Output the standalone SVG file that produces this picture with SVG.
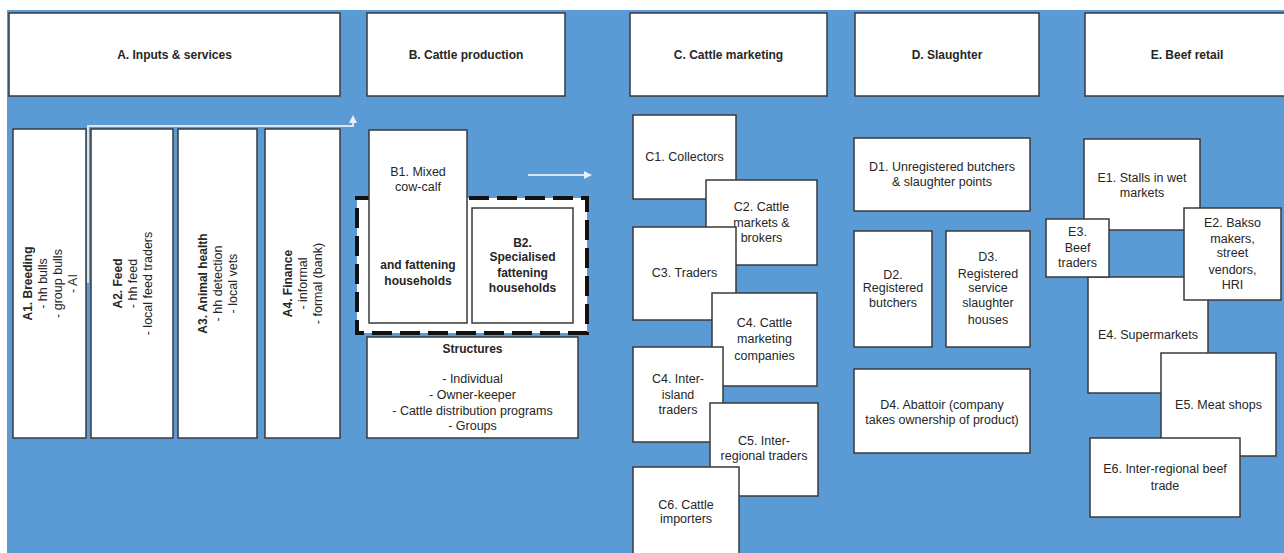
<svg xmlns="http://www.w3.org/2000/svg" width="1284" height="553" viewBox="0 0 1284 553">
<defs>
<style>
.bg{fill:#5b9bd5}
.box{fill:#fff;stroke:#3a3a3a;stroke-width:1.5}
.hdr{fill:#fff;stroke:#3a3a3a;stroke-width:1.5}
text{font-family:"Liberation Sans",Arial,sans-serif;fill:#262626;text-anchor:middle}
.t{font-size:12.5px}
.b{font-weight:bold;font-size:12px}
.conn{fill:none;stroke:#d6e6f6;stroke-width:2}
</style>
<marker id="ah" viewBox="0 0 10 10" refX="5" refY="5" markerWidth="4" markerHeight="4" orient="auto">
<path d="M0,0 L10,5 L0,10 z" fill="#e8f1fa"/>
</marker>
</defs>
<rect width="1284" height="553" fill="#fff"/>
<rect class="bg" x="7" y="10" width="1277" height="543"/>

<g id="hA"><rect class="hdr" x="9" y="13" width="331" height="83"/><text class="b" x="174.5" y="59">A. Inputs &amp; services</text></g>
<g id="hB"><rect class="hdr" x="367" y="13" width="198" height="83"/><text class="b" x="466" y="59">B. Cattle production</text></g>
<g id="hC"><rect class="hdr" x="630" y="13" width="197" height="83"/><text class="b" x="728.5" y="59">C. Cattle marketing</text></g>
<g id="hD"><rect class="hdr" x="855" y="13" width="184" height="83"/><text class="b" x="947" y="59">D. Slaughter</text></g>
<g id="hE"><rect class="hdr" x="1085" y="13" width="205" height="83"/><text class="b" x="1187" y="59">E. Beef retail</text></g>

<g id="A1"><rect class="box" x="13" y="129" width="73" height="309"/>
<g transform="translate(49.5,283.5) rotate(-90)"><text class="b" y="-18">A1. Breeding</text><text class="t" y="-3">- hh bulls</text><text class="t" y="12">- group bulls</text><text class="t" y="27">- AI</text></g></g>
<g id="A2"><rect class="box" x="91" y="129" width="82" height="309"/>
<g transform="translate(132,283.5) rotate(-90)"><text class="b" y="-10.5">A2. Feed</text><text class="t" y="4.5">- hh feed</text><text class="t" y="19.5">- local feed traders</text></g></g>
<g id="A3"><rect class="box" x="178" y="129" width="79" height="309"/>
<g transform="translate(217.5,283.5) rotate(-90)"><text class="b" y="-10.5">A3. Animal health</text><text class="t" y="4.5">- hh detection</text><text class="t" y="19.5">- local vets</text></g></g>
<g id="A4"><rect class="box" x="265" y="129" width="75" height="309"/>
<g transform="translate(302.5,283.5) rotate(-90)"><text class="b" y="-10.5">A4. Finance</text><text class="t" y="4.5">- informal</text><text class="t" y="19.5">- formal (bank)</text></g></g>

<g id="Bgroup"><rect x="357" y="198" width="230" height="135" fill="#fff" stroke="#111" stroke-width="4" stroke-dasharray="20 8"/></g>
<g id="B1"><rect class="box" x="369" y="130" width="98" height="193"/>
<text class="t" x="418" y="176">B1. Mixed</text><text class="t" x="418" y="191">cow-calf</text>
<text class="b" x="418" y="269">and fattening</text><text class="b" x="418" y="285">households</text></g>
<g id="B2"><rect class="box" x="472" y="208" width="101" height="115"/>
<text class="b" x="522.5" y="247">B2.</text><text class="b" x="522.5" y="261">Specialised</text><text class="b" x="522.5" y="277">fattening</text><text class="b" x="522.5" y="292">households</text></g>
<g id="Bs"><rect class="box" x="367" y="337" width="211" height="101"/>
<text class="b" x="472.5" y="353">Structures</text>
<text class="t" x="472.5" y="383">- Individual</text><text class="t" x="472.5" y="399">- Owner-keeper</text><text class="t" x="472.5" y="415">- Cattle distribution programs</text><text class="t" x="472.5" y="430">- Groups</text></g>

<g id="C1"><rect class="box" x="633" y="115" width="103" height="84"/><text class="t" x="684.5" y="161">C1. Collectors</text></g>
<g id="C2"><rect class="box" x="706" y="180" width="111" height="85"/><text class="t" x="761.5" y="211">C2. Cattle</text><text class="t" x="761.5" y="227">markets &amp;</text><text class="t" x="761.5" y="242">brokers</text></g>
<g id="C3"><rect class="box" x="633" y="227" width="103" height="93"/><text class="t" x="684.5" y="277">C3. Traders</text></g>
<g id="C4a"><rect class="box" x="712" y="293" width="105" height="93"/><text class="t" x="764.5" y="327">C4. Cattle</text><text class="t" x="764.5" y="343">marketing</text><text class="t" x="764.5" y="360">companies</text></g>
<g id="C4b"><rect class="box" x="633" y="347" width="90" height="95"/><text class="t" x="678" y="383">C4. Inter-</text><text class="t" x="678" y="399">island</text><text class="t" x="678" y="414">traders</text></g>
<g id="C5"><rect class="box" x="710" y="403" width="108" height="93"/><text class="t" x="764" y="445">C5. Inter-</text><text class="t" x="764" y="460">regional traders</text></g>
<g id="C6"><rect class="box" x="633" y="467" width="106" height="100"/><text class="t" x="686" y="509">C6. Cattle</text><text class="t" x="686" y="523">importers</text></g>

<g id="D1"><rect class="box" x="854" y="138" width="176" height="73"/><text class="t" x="942" y="171">D1. Unregistered butchers</text><text class="t" x="942" y="186">&amp; slaughter points</text></g>
<g id="D2"><rect class="box" x="854" y="231" width="78" height="116"/><text class="t" x="893" y="279">D2.</text><text class="t" x="893" y="292">Registered</text><text class="t" x="893" y="307">butchers</text></g>
<g id="D3"><rect class="box" x="946" y="231" width="84" height="116"/><text class="t" x="988" y="261">D3.</text><text class="t" x="988" y="278">Registered</text><text class="t" x="988" y="292">service</text><text class="t" x="988" y="307">slaughter</text><text class="t" x="988" y="324">houses</text></g>
<g id="D4"><rect class="box" x="854" y="369" width="176" height="84"/><text class="t" x="942" y="409">D4. Abattoir (company</text><text class="t" x="942" y="424">takes ownership of product)</text></g>

<g id="E1"><rect class="box" x="1084" y="139" width="116" height="91"/><text class="t" x="1142" y="182">E1. Stalls in wet</text><text class="t" x="1142" y="197">markets</text></g>
<g id="E4"><rect class="box" x="1088" y="277" width="120" height="116"/><text class="t" x="1148" y="339">E4. Supermarkets</text></g>
<g id="E3"><rect class="box" x="1046" y="219" width="63" height="58"/><text class="t" x="1077.5" y="236">E3.</text><text class="t" x="1077.5" y="252">Beef</text><text class="t" x="1077.5" y="267">traders</text></g>
<g id="E2"><rect class="box" x="1184" y="208" width="97" height="92"/><text class="t" x="1232.5" y="227">E2. Bakso</text><text class="t" x="1232.5" y="243">makers,</text><text class="t" x="1232.5" y="257">street</text><text class="t" x="1232.5" y="274">vendors,</text><text class="t" x="1232.5" y="289">HRI</text></g>
<g id="E5"><rect class="box" x="1161" y="353" width="115" height="103"/><text class="t" x="1218.5" y="409">E5. Meat shops</text></g>
<g id="E6"><rect class="box" x="1090" y="438" width="150" height="79"/><text class="t" x="1165" y="473">E6. Inter-regional beef</text><text class="t" x="1165" y="490">trade</text></g>

<g id="connectors">
<path class="conn" d="M88,283 V126 H353 V119" marker-end="url(#ah)"/>
<path class="conn" d="M528,175 H588" marker-end="url(#ah)"/>
</g>
</svg>
